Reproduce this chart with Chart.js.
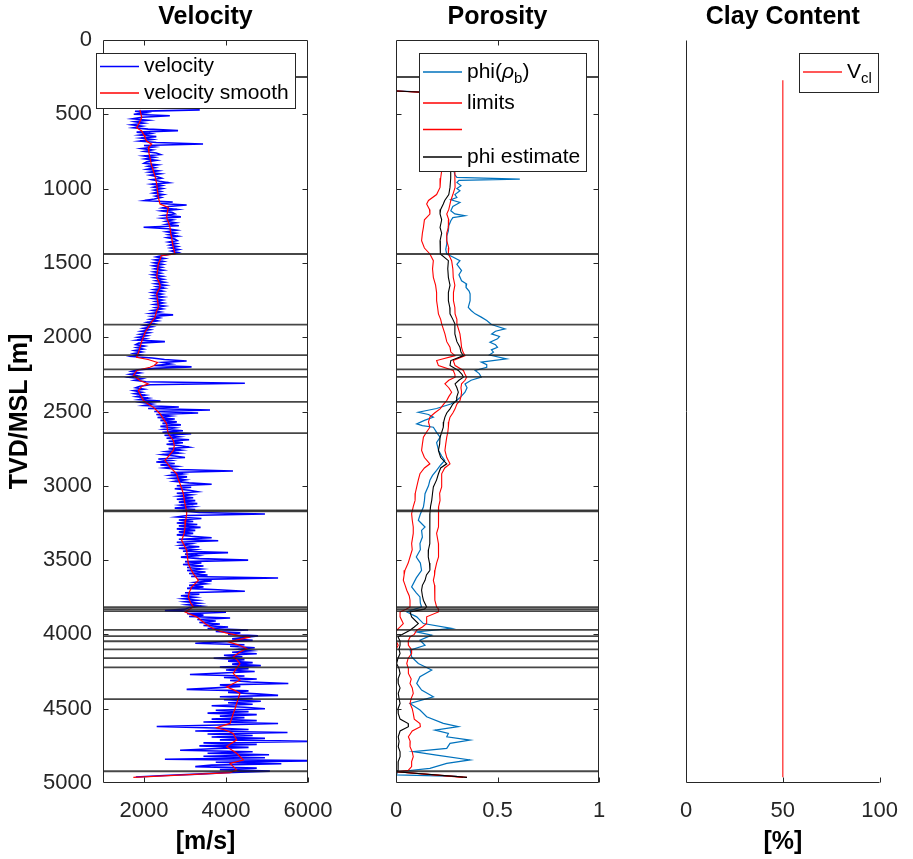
<!DOCTYPE html>
<html>
<head>
<meta charset="utf-8">
<script src="https://cdn.jsdelivr.net/npm/chart.js@4.4.1/dist/chart.umd.min.js"></script>
<style>
  html, body { margin: 0; padding: 0; background: #fff; }
  #wrap { position: relative; width: 913px; height: 859px; }
  #wrap canvas { position: absolute; left: 0; top: 0; }
</style>
</head>
<body>
<div id="wrap">
  <canvas id="cVel" width="913" height="859"></canvas>
  <canvas id="cPor" width="913" height="859"></canvas>
  <canvas id="cClay" width="913" height="859"></canvas>
</div>
<script>
// ---------- tick labels ----------
const depthTicks = [0, 500, 1000, 1500, 2000, 2500, 3000, 3500, 4000, 4500, 5000];
const velTicks = [2000, 4000, 6000];
const phiTicks = [0, 0.5, 1];
const clayTicks = [0, 50, 100];

// ---------- formation tops (m TVD) ----------
const formationTops = [249, 1440, 1915, 2121, 2216, 2267, 2435, 2646, 3165, 3172,
  3817, 3830, 3844, 3970, 4012, 4046, 4101, 4160, 4222, 4435, 4921];

// ---------- velocity log (m/s), sampled every 10 m from 470 m ----------
const RAW_TOP = 470, RAW_STEP = 10;
const velRaw = [
  3360,1780,2050,1750,2630,1950,1720,2100,1780,2000,
  1700,1950,1740,2100,2830,1820,2150,1900,2300,1930,
  2200,1900,2300,3440,2000,2250,1940,2200,2010,2300,
  2400,2000,2250,2030,2300,2070,2000,2330,2100,2270,
  2070,2350,2130,2400,2150,2330,2430,2190,2380,2600,
  2200,2430,2240,2450,2250,2410,2230,2470,2280,2420,
  2250,2020,2700,2400,3040,2600,2450,2800,2430,2680,
  2750,2500,2900,2450,2700,2530,2770,2550,2850,1990,
  2590,2800,2550,2770,2600,2830,2570,2750,2810,2600,
  2790,2630,2820,2650,2850,2670,2830,2650,2450,2300,
  2500,2270,2470,2250,2450,2230,2430,2260,2470,2240,
  2410,2210,2450,2250,2470,2290,2500,2280,2530,2310,
  2490,2250,2450,2210,2430,2240,2470,2220,2450,2280,
  2470,2250,2500,2280,2450,2210,2400,2170,2710,2200,
  2370,2150,2330,2080,2250,2010,2200,1980,2150,1930,
  2130,1900,2080,1850,2050,1830,2510,1870,1800,2010,
  1820,1980,1770,1950,1750,1920,1710,2200,2500,3040,
  2450,2650,2250,3160,2250,1850,1700,1900,1650,1830,
  1640,1950,1770,2050,4460,2150,1900,1800,2000,1750,
  1950,1770,2030,1820,2100,1890,2400,1950,2200,2000,
  2850,2100,3610,2250,3320,2300,2650,2330,2750,2400,
  2800,2450,2900,2400,2750,2500,2950,2450,3150,2500,
  2850,2550,3100,2600,2950,2550,2900,3100,2600,2900,
  2550,2850,2450,2750,3000,2350,2650,2300,2750,2400,
  2800,2500,2850,4170,2650,2950,2650,3050,2700,3000,
  2750,3100,3650,2800,3150,2750,3100,3300,2800,3150,
  2850,3200,2800,3250,2850,3300,2900,3200,2750,3250,
  2950,3350,4950,3050,2800,3400,2850,3200,2800,3300,
  2850,3380,2800,3250,2850,3200,2800,3150,3650,2850,
  3810,2800,3150,2900,3350,2850,3250,2950,4050,3000,
  3300,2900,3350,4540,3000,3400,2950,3450,3050,3400,
  3050,3500,3100,3550,3150,5270,3300,3650,3250,3500,
  3100,3450,3050,3800,4460,3000,3350,2900,3250,2950,
  3300,3000,3350,3050,3400,3100,3000,2510,4000,3050,
  3450,3100,4100,3300,3750,3350,3850,3450,4050,3550,
  4540,3750,4350,4050,4780,4450,4150,4650,3850,3250,
  4450,4100,4700,4300,4600,4150,4750,3950,4400,3700,
  4450,4050,4650,4150,4850,3850,4550,4000,4700,3900,
  3120,4450,3950,4750,4100,4600,5520,3850,4350,3750,
  3040,4550,4050,4750,5270,3850,4650,3950,4850,4050,
  4650,3650,4450,4950,3750,4550,3550,4750,3850,4450,
  3650,4750,3450,5270,3850,2310,3750,4550,3250,5500,
  3550,4650,3650,4950,3850,6200,3450,4750,3350,4550,
  3650,2880,4650,3550,5050,3450,4950,2510,6200,3750,
  5350,3650,3250,4750,3850,5070,4000,3300,2500,1800
];
const velRawDepth = velRaw.map((_, i) => RAW_TOP + i * RAW_STEP);

// ---------- smoothed velocity ----------
const velSmoothDepth = [470,520,560,590,612,640,656,680,701,724,760,791,840,880,930,970,1020,1059,1104,1127,
  1160,1194,1230,1261,1300,1329,1360,1396,1440,1452,1480,1507,1550,1597,1640,1665,1690,1709,1750,1799,
  1830,1866,1900,1933,1965,2000,2030,2068,2100,2135,2150,2170,2190,2202,2224,2258,2280,2291,2314,2330,
  2359,2390,2426,2450,2471,2515,2550,2583,2620,2650,2695,2730,2762,2800,2829,2850,2874,2919,2950,2986,
  3020,3053,3090,3120,3160,3188,3230,3277,3320,3367,3400,3434,3480,3524,3560,3591,3636,3660,3681,3720,
  3748,3790,3815,3849,3882,3927,3950,3972,3990,4005,4021,4035,4050,4070,4095,4120,4151,4175,4196,4230,
  4263,4285,4308,4330,4353,4375,4397,4430,4465,4500,4532,4565,4599,4628,4645,4666,4690,4711,4735,4756,
  4780,4800,4825,4845,4868,4890,4912,4930,4962];
const velSmooth = [1900,1944,1880,1822,1944,2000,2024,2060,2187,2105,2120,2146,2180,2227,2280,2310,2330,2350,2390,2593,
  2570,2553,2600,2634,2650,2675,2690,2715,2756,2420,2390,2350,2330,2310,2380,2390,2340,2310,2330,2350,
  2300,2268,2180,2106,2030,1984,1940,1902,1870,1821,2100,2330,2250,2146,1821,1740,1850,1902,2106,1950,
  1862,1920,1984,2100,2227,2390,2470,2553,2570,2593,2715,2740,2715,2600,2512,2570,2634,2797,2830,2878,
  2920,2959,2980,3000,3030,3041,3020,3000,2980,2919,2980,3041,3060,3081,3140,3203,3325,3240,3163,3100,
  3081,3140,3203,3000,3285,3488,3620,3773,4000,4261,4545,4300,4057,4300,4504,4330,4177,4280,4341,4250,
  4177,4260,4341,4180,4016,4200,4341,4300,4260,4220,4177,4140,4097,3772,4000,4177,4220,4260,4120,4016,
  4150,4260,4350,4423,4097,4180,4260,4100,1740];

// ---------- porosity from bulk density ----------
const phiRhoDepth = [343,360,880,907,925,936,945,959,980,1000,1015,1040,1060,1075,1093,1120,1149,1170,1183,1195,
  1216,1250,1284,1320,1373,1410,1440,1460,1485,1510,1552,1580,1620,1642,1665,1690,1709,1754,1799,1820,
  1843,1865,1888,1915,1944,1960,1978,1995,2011,2034,2050,2068,2085,2101,2120,2146,2168,2185,2202,2224,
  2245,2269,2290,2314,2340,2370,2400,2426,2450,2480,2505,2520,2538,2560,2583,2595,2606,2640,2673,2710,
  2762,2800,2829,2860,2896,2930,2963,3000,3053,3100,3143,3190,3232,3277,3300,3345,3389,3430,3479,3520,
  3569,3620,3681,3720,3748,3790,3815,3849,3882,3927,3960,3983,4005,4039,4073,4106,4151,4196,4240,4285,
  4330,4375,4420,4465,4509,4554,4599,4621,4644,4667,4689,4711,4733,4767,4789,4812,4845,4868,4901,4924,
  4945,4955];
const phiRho = [0,0.28,0.285,0.29,0.30,0.61,0.31,0.30,0.32,0.30,0.315,0.29,0.30,0.27,0.315,0.28,0.27,0.29,0.34,0.28,
  0.27,0.26,0.258,0.25,0.25,0.245,0.25,0.28,0.315,0.30,0.323,0.31,0.323,0.348,0.345,0.36,0.365,0.365,0.356,0.37,
  0.39,0.42,0.447,0.47,0.537,0.49,0.471,0.51,0.50,0.463,0.49,0.50,0.47,0.48,0.46,0.545,0.42,0.447,0.447,0.39,
  0.41,0.42,0.37,0.34,0.35,0.34,0.32,0.299,0.27,0.20,0.11,0.16,0.184,0.14,0.102,0.13,0.184,0.20,0.217,0.20,
  0.21,0.225,0.24,0.22,0.20,0.18,0.167,0.16,0.143,0.14,0.135,0.12,0.11,0.143,0.126,0.13,0.118,0.12,0.10,0.12,
  0.126,0.10,0.077,0.10,0.118,0.12,0.126,0.053,0.102,0.135,0.274,0.102,0.176,0.118,0.143,0.07,0.077,0.11,0.176,0.118,
  0.102,0.126,0.184,0.069,0.118,0.151,0.233,0.307,0.192,0.258,0.25,0.365,0.266,0.25,0.085,0.20,0.365,0.25,0.167,0.01,
  0.0,0.30];

// ---------- porosity estimate with lower / upper limits ----------
const estDepth = [343,360,880,930,992,1040,1080,1104,1140,1171,1210,1261,1300,1351,1400,1440,1485,1540,1597,1650,
  1700,1754,1800,1843,1880,1910,1978,2030,2068,2100,2124,2157,2191,2224,2250,2269,2290,2314,2340,2370,
  2400,2426,2450,2482,2510,2538,2570,2606,2640,2673,2720,2762,2810,2852,2880,2919,2960,3008,3050,3098,
  3140,3188,3230,3277,3320,3389,3430,3479,3520,3569,3600,3636,3670,3703,3740,3770,3815,3830,3849,3882,
  3927,3950,3972,4000,4017,4045,4073,4100,4129,4160,4196,4230,4263,4300,4330,4360,4397,4430,4465,4500,
  4532,4570,4600,4621,4650,4689,4720,4756,4790,4823,4856,4890,4915,4924,4962];
const phiEst = [0,0.27,0.269,0.27,0.266,0.26,0.24,0.233,0.22,0.217,0.225,0.217,0.225,0.217,0.22,0.217,0.258,0.255,0.258,0.266,
  0.258,0.258,0.265,0.266,0.28,0.29,0.29,0.30,0.315,0.32,0.332,0.27,0.266,0.307,0.325,0.332,0.31,0.291,0.30,0.307,
  0.30,0.299,0.28,0.266,0.25,0.241,0.235,0.233,0.225,0.217,0.215,0.209,0.22,0.25,0.22,0.209,0.20,0.184,0.18,0.176,
  0.17,0.167,0.165,0.167,0.167,0.167,0.16,0.159,0.165,0.167,0.15,0.143,0.13,0.126,0.13,0.135,0.151,0.14,0.069,0.077,
  0.11,0.09,0.069,0.03,0.01,0.02,0.02,0.015,0.02,0.01,0.003,0.015,0.02,0.01,0.011,0.02,0.011,0.015,0.02,0.01,
  0.011,0.02,0.06,0.061,0.02,0.011,0.015,0.011,0.02,0.02,0.011,0.011,0.01,0.0,0.35];
const phiLow = [0,0.22,0.225,0.22,0.217,0.20,0.16,0.151,0.165,0.167,0.14,0.135,0.13,0.126,0.14,0.167,0.184,0.18,0.184,0.195,
  0.20,0.20,0.205,0.209,0.22,0.225,0.241,0.25,0.266,0.27,0.291,0.20,0.209,0.282,0.29,0.291,0.26,0.241,0.26,0.274,
  0.26,0.25,0.235,0.217,0.19,0.167,0.16,0.167,0.15,0.135,0.13,0.126,0.14,0.167,0.14,0.118,0.11,0.102,0.095,0.094,
  0.085,0.077,0.08,0.085,0.085,0.077,0.08,0.069,0.06,0.044,0.04,0.036,0.045,0.053,0.065,0.069,0.069,0.05,0.02,0.02,
  0.036,0.02,0.003,0.0,0.0,0.0,0.011,0.0,0.0,0.0,0.0,0.0,0.0,0.0,0.0,0.0,0.0,0.0,0.003,0.0,
  0.0,0.0,0.0,0.0,0.0,0.0,0.0,0.0,0.0,0.0,0.0,0.0,0.0,0.0,0.33];
const phiHigh = [0,0.29,0.29,0.29,0.291,0.28,0.27,0.266,0.26,0.25,0.26,0.258,0.25,0.25,0.26,0.258,0.274,0.28,0.282,0.29,
  0.283,0.283,0.29,0.291,0.30,0.30,0.315,0.32,0.323,0.33,0.34,0.282,0.291,0.332,0.34,0.348,0.34,0.323,0.32,0.323,
  0.32,0.315,0.30,0.291,0.28,0.266,0.26,0.258,0.255,0.25,0.245,0.241,0.25,0.266,0.24,0.225,0.225,0.225,0.215,0.217,
  0.21,0.209,0.21,0.209,0.20,0.209,0.21,0.209,0.20,0.192,0.19,0.184,0.19,0.192,0.19,0.192,0.2,0.21,0.209,0.151,
  0.151,0.13,0.102,0.09,0.069,0.06,0.061,0.075,0.077,0.06,0.053,0.061,0.061,0.075,0.069,0.08,0.085,0.075,0.069,0.08,
  0.085,0.09,0.118,0.12,0.08,0.061,0.07,0.069,0.08,0.085,0.077,0.077,0.06,0.0,0.35];

// ---------- clay volume (%) ----------
const clayDepth = [271, 4962];
const clayVol = [50, 50];

// ---------- shared styling ----------
const FONT = "'Liberation Sans', Arial, Helvetica, sans-serif";
const AXIS = '#262626';
const TICK_LEN = 5;

const pts = (xs, ys) => xs.map((v, i) => ({ x: v, y: ys[i] }));

// Splits a label like "phi(ρ_b)" or "V_{cl}" into normal / italic / subscript runs.
function labelRuns(label) {
  const runs = [];
  label.split(/(_\{[^}]*\}|_.)/).forEach(part => {
    if (!part) return;
    if (part[0] === '_') { runs.push({ t: part.replace(/^_\{?/, '').replace(/\}$/, ''), sub: true }); return; }
    part.split(/([\u03b1-\u03c9])/).forEach(p => { if (p) runs.push({ t: p, italic: /[\u03b1-\u03c9]/.test(p) }); });
  });
  return runs;
}

// Formation tops, axes box, inward ticks and in-axes legend of each track.
const trackDecor = {
  id: 'trackDecor',
  afterDatasetsDraw(chart, args, o) {
    const ctx = chart.ctx, a = chart.chartArea;
    const xs = chart.scales.x, ys = chart.scales.y;
    const L = Math.round(a.left) + 0.5, R = Math.round(a.right) - 0.5;
    const T = Math.round(a.top) + 0.5, B = Math.round(a.bottom) - 0.5;
    ctx.save();

    if (o.tops) {
      ctx.strokeStyle = 'rgba(25,25,25,0.8)';
      ctx.lineWidth = 1.8;
      o.tops.forEach(d => {
        const y = ys.getPixelForValue(d);
        ctx.beginPath(); ctx.moveTo(a.left, y); ctx.lineTo(a.right, y); ctx.stroke();
      });
    }

    ctx.strokeStyle = AXIS;
    ctx.lineWidth = 1;
    ctx.beginPath();
    if (o.box) {
      ctx.rect(L, T, R - L, B - T);
    } else {
      ctx.moveTo(L, T - (o.axisExtend || 0)); ctx.lineTo(L, B); ctx.lineTo(R, B);
    }
    // inward tick marks
    xs.ticks.forEach(t => {
      const x = Math.round(xs.getPixelForValue(t.value)) + 0.5;
      if (x <= L + 1) return;
      ctx.moveTo(x, B); ctx.lineTo(x, B - TICK_LEN);
      if (o.box && x < R - 1) { ctx.moveTo(x, T); ctx.lineTo(x, T + TICK_LEN); }
    });
    if (o.yTicks) {
      ys.ticks.forEach(t => {
        const y = Math.round(ys.getPixelForValue(t.value)) + 0.5;
        if (y <= T + 1 || y >= B - 1) return;
        ctx.moveTo(L, y); ctx.lineTo(L + TICK_LEN, y);
        ctx.moveTo(R, y); ctx.lineTo(R - TICK_LEN, y);
      });
    }
    ctx.stroke();

    if (o.legend) {
      const g = o.legend;
      const x0 = Math.round(a.left + g.dx), y0 = Math.round(a.top + g.dy);
      ctx.fillStyle = '#fff';
      ctx.fillRect(x0, y0, g.w, g.h);
      ctx.strokeStyle = AXIS; ctx.lineWidth = 1;
      ctx.strokeRect(x0 + 0.5, y0 + 0.5, g.w, g.h);
      ctx.textBaseline = 'middle';
      ctx.textAlign = 'left';
      g.rows.forEach((ry, i) => {
        const ds = chart.data.datasets[i];
        const y = y0 + ry;
        ctx.strokeStyle = ds.borderColor; ctx.lineWidth = 1.3;
        ctx.beginPath(); ctx.moveTo(x0 + 4, y); ctx.lineTo(x0 + 43, y); ctx.stroke();
        let x = x0 + 48;
        ctx.fillStyle = '#000';
        labelRuns(ds.label).forEach(r => {
          const size = r.sub ? 15 : 21;
          ctx.font = (r.italic ? 'italic ' : '') + size + 'px ' + FONT;
          ctx.fillText(r.t, x, y + (r.sub ? 7 : 0));
          x += ctx.measureText(r.t).width;
        });
      });
    }
    ctx.restore();
  }
};

function depthAxis(showLabels) {
  return {
    type: 'linear', min: 0, max: 5000, reverse: true, position: 'left',
    afterBuildTicks: s => { s.ticks = depthTicks.map(v => ({ value: v })); },
    afterFit: s => { s.width = showLabels ? 103 : 0; },
    grid: { display: false, drawTicks: false },
    border: { display: false },
    ticks: {
      display: showLabels, autoSkip: false, padding: 11, color: AXIS,
      font: { family: FONT, size: 22 }, callback: v => String(v)
    },
    title: {
      display: showLabels, text: 'TVD/MSL [m]', color: '#000',
      font: { family: FONT, size: 25, weight: 'bold' }, padding: { top: 5, bottom: 0 }
    }
  };
}

function valueAxis(min, max, tickValues, title) {
  return {
    type: 'linear', min, max, position: 'bottom',
    afterBuildTicks: s => { s.ticks = tickValues.map(v => ({ value: v })); },
    afterFit: s => { s.height = 76; },
    grid: { display: false, drawTicks: false },
    border: { display: false },
    ticks: {
      autoSkip: false, maxRotation: 0, padding: 15, color: AXIS,
      font: { family: FONT, size: 22 }, callback: v => String(v)
    },
    title: {
      display: !!title, text: title || '', color: '#000',
      font: { family: FONT, size: 25, weight: 'bold' }, padding: { top: 0, bottom: 2 }
    }
  };
}

function makeTrack(id, opts) {
  return new Chart(document.getElementById(id), {
    type: 'line',
    data: { datasets: opts.datasets },
    options: {
      responsive: false, animation: false, devicePixelRatio: 1,
      indexAxis: 'y',
      layout: { padding: opts.padding },
      elements: { point: { radius: 0 }, line: { tension: 0 } },
      scales: { x: opts.x, y: depthAxis(opts.depthLabels) },
      plugins: {
        legend: { display: false },
        tooltip: { enabled: false },
        title: {
          display: true, text: opts.title, fullSize: false, color: '#000',
          font: { family: FONT, size: 25, weight: 'bold' }, padding: { top: 2, bottom: 8 }
        },
        trackDecor: opts.decor
      }
    },
    plugins: [trackDecor]
  });
}

// Velocity track (higher "order" is painted first, so the smooth curve sits on top)
makeTrack('cVel', {
  title: 'Velocity',
  depthLabels: true,
  padding: { left: 0, right: 913 - 308, top: 0, bottom: 0 },
  x: valueAxis(1000, 6000, velTicks, '[m/s]'),
  datasets: [
    { label: 'velocity', data: pts(velRaw, velRawDepth), borderColor: '#0000ff', borderWidth: 1.6, order: 2 },
    { label: 'velocity smooth', data: pts(velSmooth, velSmoothDepth), borderColor: '#ff0000', borderWidth: 1.2, order: 1 }
  ],
  decor: { box: true, yTicks: true, tops: formationTops,
           legend: { dx: -7, dy: 13, w: 199, h: 55, rows: [13.5, 40] } }
});

// Porosity track
makeTrack('cPor', {
  title: 'Porosity',
  depthLabels: false,
  padding: { left: 396, right: 913 - 599, top: 0, bottom: 0 },
  x: valueAxis(0, 1, phiTicks, ''),
  datasets: [
    { label: 'phi(\u03c1_b)', data: pts(phiRho, phiRhoDepth), borderColor: '#0072bd', borderWidth: 1.2, order: 4 },
    { label: 'limits', data: pts(phiLow, estDepth), borderColor: '#ff0000', borderWidth: 1.1, order: 3 },
    { label: '', data: pts(phiHigh, estDepth), borderColor: '#ff0000', borderWidth: 1.1, order: 2 },
    { label: 'phi estimate', data: pts(phiEst, estDepth), borderColor: '#000000', borderWidth: 1.1, order: 1 }
  ],
  decor: { box: true, yTicks: true, tops: formationTops,
           legend: { dx: 23, dy: 13, w: 167, h: 118, rows: [19, 50, 76.5, 104] } }
});

// Clay content track
makeTrack('cClay', {
  title: 'Clay Content',
  depthLabels: false,
  padding: { left: 686, right: 913 - 890, top: 0, bottom: 0 },
  x: valueAxis(0, 100, clayTicks, '[%]'),
  datasets: [
    { label: 'V_{cl}', data: pts(clayVol, clayDepth), borderColor: '#ff2020', borderWidth: 1.2 }
  ],
  decor: { box: false, yTicks: false, axisExtend: 0,
           legend: { dx: 113, dy: 13, w: 79, h: 39, rows: [19] } }
});
</script>
</body>
</html>
